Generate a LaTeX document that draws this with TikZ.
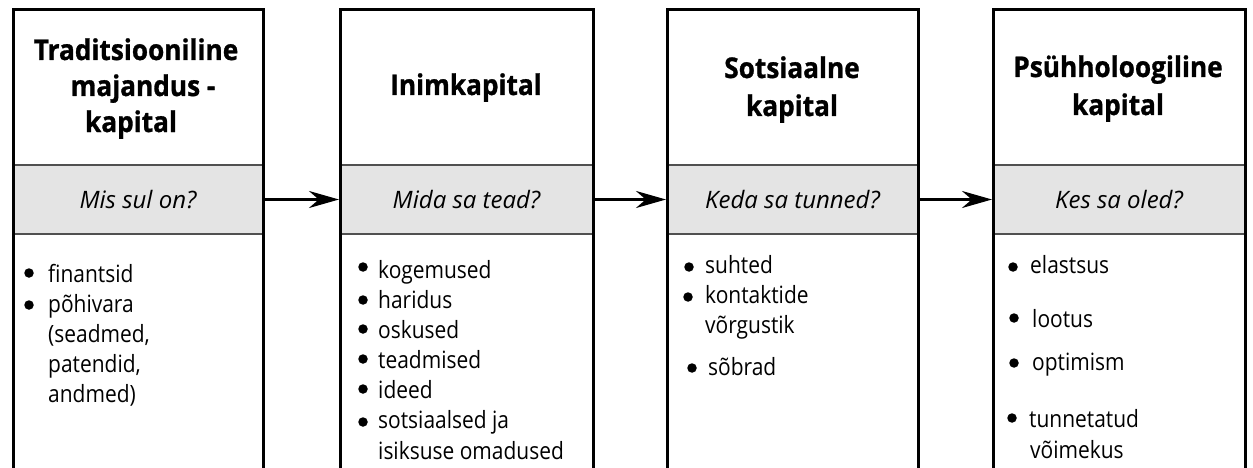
\documentclass[tikz,border=0pt]{standalone}
\usepackage{fontspec}
\setmainfont{Open Sans}[FakeStretch=0.88]
\newfontfamily\askfont{Open Sans}
\newfontfamily\titlefont{Open Sans}[FakeStretch=0.92, BoldFeatures={FakeBold=1}]
\usetikzlibrary{arrows.meta}
\definecolor{bandgray}{HTML}{E4E4E4}
\definecolor{sepgray}{HTML}{505050}
\begin{document}
\begin{tikzpicture}[x=1pt,y=-1pt,
  title/.style={font=\titlefont\fontsize{28.5}{32}\selectfont\bfseries, anchor=base, inner sep=0pt},
  item/.style={font=\fontsize{23.8}{27}\selectfont, anchor=base west, inner sep=0pt},
  bul/.style={circle, fill=black, inner sep=0pt, minimum size=9.5pt},
  band/.style={rectangle, fill=bandgray, draw=sepgray, line width=2pt, minimum height=69pt,
    inner sep=0pt, font=\askfont\fontsize{24}{28}\selectfont\itshape},
  frame/.style={line width=3pt, black, line join=miter},
  flow/.style={line width=2.5pt, -{Stealth[length=30pt,width=17pt]}}
]
\useasboundingbox[fill=white] (0,0) rectangle (1253,468);

% question bands
\node[band, minimum width=250pt] (q1) at (138,199.5) {Mis sul on?};
\node[band, minimum width=253pt] (q2) at (466.5,199.5) {Mida sa tead?};
\node[band, minimum width=251pt] (q3) at (792.5,199.5) {Keda sa tunned?};
\node[band, minimum width=252pt] (q4) at (1119,199.5) {Kes sa oled?};

% column frames (open at the bottom edge)
\draw[frame] (13,472) -- (13,10) -- (263,10) -- (263,472);
\draw[frame] (340,472) -- (340,10) -- (593,10) -- (593,472);
\draw[frame] (667,472) -- (667,10) -- (918,10) -- (918,472);
\draw[frame] (993,472) -- (993,10) -- (1245,10) -- (1245,472);

% arrows
\draw[flow] (q1.east) -- (q2.west);
\draw[flow] (q2.east) -- (q3.west);
\draw[flow] (q3.east) -- (q4.west);

% titles
\node[title] (t1a) at (136,60) {Traditsiooniline};
\node[title] (t1b) at (143,96) {majandus -};
\node[title] (t1c) at (131,132) {kapital};
\node[title] (t2) at (466,95) {Inimkapital};
\node[title] (t3a) at (792,78) {Sotsiaalne};
\node[title] (t3b) at (792,116) {kapital};
\node[title] (t4a) at (1118,77) {Psühholoogiline};
\node[title] (t4b) at (1118,115) {kapital};

% column 1 items
\node[bul] (b1a) at (29,273) {};
\node[item] (i1a) at (48,282) {finantsid};
\node[bul] (b1b) at (29,305) {};
\node[item] (i1b) at (48,312) {põhivara};
\node[item] (i1c) at (48,342) {(seadmed,};
\node[item] (i1d) at (48,372) {patendid,};
\node[item] (i1e) at (48,402) {andmed)};

% column 2 items
\node[bul] (b2a) at (363,267) {};
\node[item] (i2a) at (378,278) {kogemused};
\node[bul] (b2b) at (363,300) {};
\node[item] (i2b) at (378,308) {haridus};
\node[bul] (b2c) at (363,329) {};
\node[item] (i2c) at (378,338) {oskused};
\node[bul] (b2d) at (363,359) {};
\node[item] (i2d) at (378,368) {teadmised};
\node[bul] (b2e) at (363,389) {};
\node[item] (i2e) at (378,398) {ideed};
\node[bul] (b2f) at (363,422) {};
\node[item] (i2f) at (378,428) {sotsiaalsed ja};
\node[item] (i2g) at (378,459) {isiksuse omadused};

% column 3 items
\node[bul] (b3a) at (689,267) {};
\node[item] (i3a) at (705,273) {suhted};
\node[bul] (b3b) at (688,297) {};
\node[item] (i3b) at (705,303) {kontaktide};
\node[item] (i3c) at (705,333) {võrgustik};
\node[bul] (b3d) at (692,368) {};
\node[item] (i3d) at (708,375) {sõbrad};

% column 4 items
\node[bul] (b4a) at (1013,267) {};
\node[item] (i4a) at (1030,273) {elastsus};
\node[bul] (b4b) at (1014,318) {};
\node[item] (i4b) at (1032,327) {lootus};
\node[bul] (b4c) at (1014,363) {};
\node[item] (i4c) at (1032,370) {optimism};
\node[bul] (b4d) at (1012,418) {};
\node[item] (i4d) at (1029,427) {tunnetatud};
\node[item] (i4e) at (1030,458) {võimekus};
\end{tikzpicture}
\end{document}
